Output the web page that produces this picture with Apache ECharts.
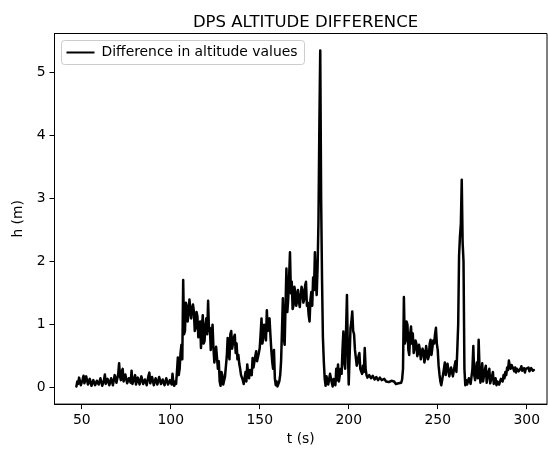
<!DOCTYPE html>
<html>
<head>
<meta charset="utf-8">
<script src="https://cdn.jsdelivr.net/npm/echarts@6/dist/echarts.min.js"></script>
<style>
  html, body { margin: 0; padding: 0; background: #fff; }
  #chart { width: 548px; height: 451px; }
</style>
</head>
<body>
<div id="chart"></div>
<script>
// Sampling grid: first sample time and step (s)
const T_START = 47;
const T_STEP = 0.5;

// Altitude difference (m), one row per 5 s of samples
const altDiff = [
  0.02,0.10, 0.06,0.16, 0.14,0.04, 0.05,0.13, 0.19,0.07,   // 47
  0.08,0.18, 0.17,0.05, 0.06,0.14, 0.15,0.03, 0.04,0.12,   // 52
  0.13,0.04, 0.03,0.11, 0.14,0.05, 0.05,0.15, 0.12,0.03,   // 57
  0.03,0.12, 0.21,0.06, 0.04,0.14, 0.13,0.04, 0.03,0.15,   // 62
  0.16,0.04, 0.05,0.20, 0.18,0.08, 0.07,0.22, 0.39,0.18,   // 67
  0.12,0.26, 0.30,0.10, 0.09,0.21, 0.24,0.07, 0.06,0.15,   // 72
  0.18,0.08, 0.27,0.06, 0.05,0.15, 0.20,0.05, 0.04,0.16,   // 77
  0.17,0.05, 0.06,0.18, 0.21,0.06, 0.04,0.13, 0.15,0.04,   // 82
  0.03,0.19, 0.24,0.07, 0.06,0.17, 0.18,0.04, 0.03,0.15,   // 87
  0.16,0.05, 0.05,0.17, 0.19,0.06, 0.03,0.13, 0.14,0.04,   // 92
  0.04,0.15, 0.17,0.05, 0.03,0.12, 0.13,0.05, 0.22,0.07,   // 97
  0.03,0.10, 0.06,0.25, 0.48,0.20, 0.30,0.55, 0.68,0.45,   // 102
  1.71,0.85, 0.90,1.35, 1.29,1.05, 1.18,1.40, 1.42,1.10,   // 107
  1.25,1.32, 1.21,0.90, 0.95,1.20, 1.13,0.80, 0.78,1.05,   // 112
  0.63,0.95, 1.15,0.70, 0.74,1.00, 1.10,0.85, 1.38,0.90,   // 117
  0.95,0.60, 0.84,1.00, 0.63,0.40, 0.42,0.65, 0.68,0.30,   // 122
  0.42,0.10, 0.03,0.25, 0.20,0.05, 0.02,0.18, 0.15,0.50,   // 127
  0.79,0.55, 0.45,0.85, 0.90,0.62, 0.60,0.80, 0.84,0.55,   // 132
  0.70,0.45, 0.52,0.38, 0.30,0.20, 0.21,0.12, 0.06,0.15,   // 137
  0.25,0.10, 0.37,0.22, 0.15,0.28, 0.30,0.20, 0.47,0.32,   // 142
  0.35,0.50, 0.58,0.42, 0.40,0.55, 0.63,0.85, 1.10,0.70,   // 147
  0.79,1.00, 0.95,0.75, 1.23,0.90, 1.00,1.10, 0.84,0.60,   // 152
  0.42,0.30, 0.60,0.15, 0.04,0.10, 0.02,0.06, 0.10,0.20,   // 157
  0.42,0.90, 1.42,0.80, 0.68,1.30, 1.89,1.20, 1.40,1.75,   // 162
  2.15,1.50, 1.68,1.25, 1.31,1.60, 1.52,1.30, 1.38,1.55,   // 167
  1.37,1.28, 1.45,1.60, 1.55,1.35, 1.40,1.62, 1.68,1.30,   // 172
  1.35,1.15, 1.05,1.40, 1.52,1.30, 1.75,1.55, 2.15,1.70,   // 177
  1.47,1.90, 2.63,4.15, 5.35,3.00, 1.73,0.80, 0.42,0.15,   // 182
  0.03,0.18, 0.20,0.05, 0.06,0.22, 0.25,0.08, 0.02,0.14,   // 187
  0.15,0.04, 0.30,0.12, 0.37,0.10, 0.08,0.30, 0.22,0.60,   // 192
  0.89,0.40, 0.30,0.90, 1.47,0.60, 0.05,0.50, 0.95,1.05,   // 197
  1.21,0.90, 0.85,0.60, 0.63,0.35, 0.40,0.50, 0.55,0.30,   // 202
  0.26,0.22, 0.35,0.25, 0.63,0.30, 0.20,0.16, 0.15,0.20,   // 207
  0.21,0.15, 0.14,0.19, 0.18,0.13, 0.12,0.17, 0.17,0.12,   // 212
  0.13,0.16, 0.15,0.12, 0.11,0.15, 0.14,0.11, 0.10,0.13,   // 217
  0.12,0.09, 0.09,0.12, 0.11,0.08, 0.08,0.10, 0.10,0.06,   // 222
  0.04,0.06, 0.07,0.05, 0.10,0.08, 0.13,0.30, 1.44,0.70,   // 227
  0.75,1.05, 1.00,0.60, 0.52,0.85, 0.97,0.70, 0.86,0.55,   // 232
  0.63,0.75, 0.70,0.50, 0.55,0.68, 0.60,0.45, 0.42,0.62,   // 237
  0.58,0.40, 0.48,0.66, 0.63,0.45, 0.50,0.70, 0.76,0.52,   // 242
  0.55,0.75, 0.70,0.85, 0.95,0.70, 0.60,0.35, 0.21,0.10,   // 247
  0.04,0.12, 0.15,0.30, 0.40,0.20, 0.22,0.38, 0.35,0.18,   // 252
  0.21,0.32, 0.30,0.18, 0.20,0.35, 0.42,0.25, 0.60,1.00,   // 257
  2.10,2.40, 2.60,3.30, 2.30,2.00, 0.30,0.04, 0.12,0.05,   // 262
  0.05,0.15, 0.18,0.06, 0.08,0.30, 0.66,0.20, 0.12,0.30,   // 267
  0.40,0.15, 0.76,0.30, 0.08,0.20, 0.39,0.10, 0.10,0.28,   // 272
  0.35,0.08, 0.06,0.25, 0.30,0.07, 0.05,0.18, 0.25,0.06,   // 277
  0.08,0.15, 0.04,0.10, 0.12,0.05, 0.06,0.14, 0.15,0.10,   // 282
  0.20,0.15, 0.25,0.20, 0.32,0.28, 0.43,0.35, 0.30,0.36,   // 287
  0.38,0.30, 0.26,0.32, 0.24,0.30, 0.33,0.26, 0.25,0.30,   // 292
  0.34,0.27, 0.28,0.31, 0.24,0.30, 0.28,0.33, 0.32,0.26,   // 297
  0.25,0.31, 0.30,0.27, 0.28                               // 302
];

const xTicks = [50, 100, 150, 200, 250, 300];
const yTicks = [0, 1, 2, 3, 4, 5];

const seriesName = 'Difference in altitude values';
const FONT = 'DejaVu Sans';
const TICK_FS = 13.9;

const points = altDiff.map((h, i) => [T_START + i * T_STEP, h]);

const chart = echarts.init(document.getElementById('chart'), null, { renderer: 'canvas' });

chart.setOption({
  animation: false,
  backgroundColor: '#ffffff',
  title: {
    text: 'DPS ALTITUDE DIFFERENCE',
    left: 300.5,
    textAlign: 'center',
    top: 9,
    textStyle: { fontFamily: FONT, fontSize: 16.5, fontWeight: 'normal', color: '#000' }
  },
  legend: {
    left: 61.5,
    top: 40.5,
    orient: 'vertical',
    icon: 'rect',
    itemWidth: 28,
    itemHeight: 2,
    padding: [5, 7, 5, 5],
    borderColor: '#cccccc',
    borderWidth: 1,
    borderRadius: 3,
    backgroundColor: 'rgba(255,255,255,0.8)',
    textStyle: { fontFamily: FONT, fontSize: TICK_FS, color: '#000', padding: [0, 0, 0, 2] },
    data: [{ name: seriesName, itemStyle: { color: '#000' } }]
  },
  grid: {
    left: 54.5,
    right: 1,
    top: 33.5,
    bottom: 44.5,
    show: true,
    borderColor: '#000',
    borderWidth: 1,
    containLabel: false
  },
  xAxis: {
    type: 'value',
    min: 34.7,
    max: 311.4,
    name: 't (s)',
    nameLocation: 'middle',
    nameGap: 24,
    nameTextStyle: { fontFamily: FONT, fontSize: TICK_FS, color: '#000' },
    splitLine: { show: false },
    axisLine: { onZero: false, lineStyle: { color: '#000', width: 1 } },
    axisTick: { show: true, length: 5, lineStyle: { color: '#000' }, customValues: xTicks },
    axisLabel: { fontFamily: FONT, fontSize: TICK_FS, color: '#000', margin: 9, customValues: xTicks }
  },
  yAxis: {
    type: 'value',
    min: -0.26,
    max: 5.62,
    name: 'h (m)',
    nameLocation: 'middle',
    nameGap: 29,
    nameRotate: 90,
    nameTextStyle: { fontFamily: FONT, fontSize: TICK_FS, color: '#000' },
    splitLine: { show: false },
    axisLine: { show: true, onZero: false, lineStyle: { color: '#000', width: 1 } },
    axisTick: { show: true, length: 5, lineStyle: { color: '#000' }, customValues: yTicks },
    axisLabel: { fontFamily: FONT, fontSize: TICK_FS, color: '#000', margin: 9, customValues: yTicks }
  },
  series: [{
    name: seriesName,
    type: 'line',
    data: points,
    symbol: 'none',
    lineStyle: { color: '#000', width: 2.5, join: 'round', cap: 'round' },
    itemStyle: { color: '#000' },
    clip: true
  }]
});
</script>
</body>
</html>
